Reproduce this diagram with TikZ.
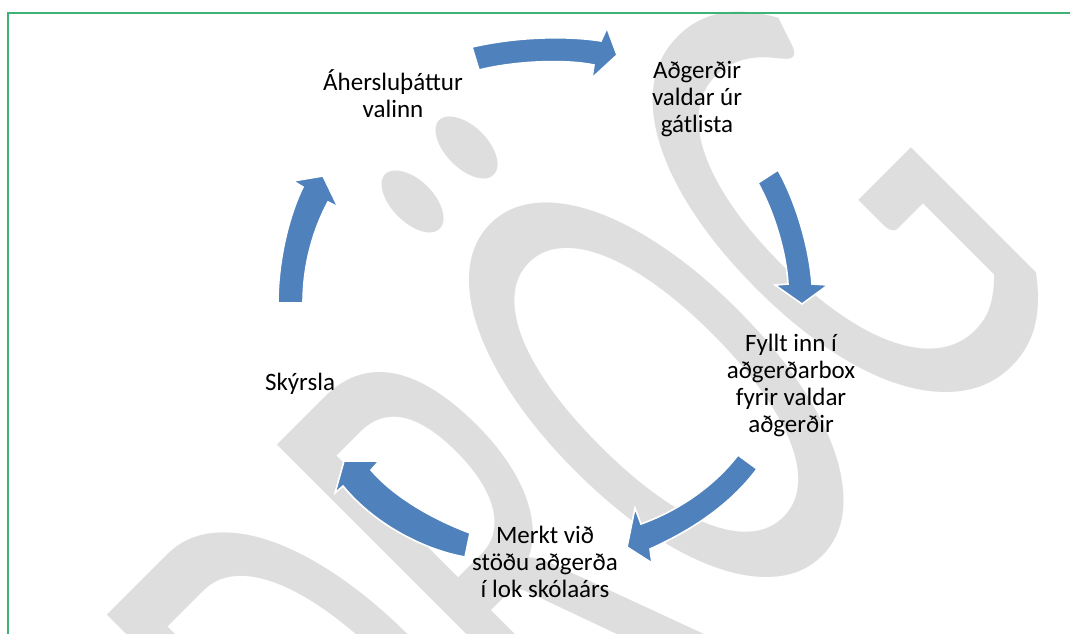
\documentclass[tikz,border=0pt]{standalone}
\usepackage{fontspec}
\setmainfont{Carlito}
\usepackage{graphicx}
\definecolor{frameg}{RGB}{64,178,115}
\definecolor{wmgray}{RGB}{222,222,222}
\definecolor{arrblue}{RGB}{79,129,189}
\tikzset{
  cyclearrow/.style={fill=arrblue, draw=white, line width=1.6pt, line join=miter},
  label/.style={align=center, inner sep=0pt, text=black,
    font=\fontsize{25}{27}\selectfont},
}
\begin{document}
\begin{tikzpicture}[x=1pt,y=-1pt]
\useasboundingbox (0,0) rectangle (1070,633);
\clip (0,0) rectangle (1070,633);
\fill[white] (0,0) rectangle (1070,633);
% watermark
\node[anchor=base, rotate=45, inner sep=0pt, text=wmgray] (wm) at (748,624)
  {\scalebox{1}[1.85]{\fontsize{387}{400}\selectfont DRÖG}};
% frame
\draw[frameg, line width=2pt] (8,640) -- (8,13) -- (1080,13);
% labels
\node[label] (n1) at (393,94) {Áhersluþáttur\\valinn};
\node[label] (n2) at (697,99) {Aðgerðir\\valdar úr\\gátlista};
\node[label] (n3) at (791,385) {Fyllt inn í\\aðgerðarbox\\fyrir valdar\\aðgerðir};
\node[label] (n4) at (545,562) {Merkt við\\stöðu aðgerða\\í lok skólaárs};
\node[label] (n5) at (300,384) {Skýrsla};
% arrows
\path[cyclearrow] (472,47) .. controls (520,36) and (570,36) .. (601,41)
  -- (607,28) -- (617,55) -- (592,78) -- (594,65)
  .. controls (565,59) and (515,61) .. (479,70) -- cycle;
\path[cyclearrow] (778,170) .. controls (795,200) and (809,245) .. (812,284)
  -- (828,285) -- (802,304) -- (775,285) -- (788,284)
  .. controls (786,250) and (773,210) .. (758,183) -- cycle;
\path[cyclearrow] (738,455) .. controls (715,485) and (680,510) .. (641,524)
  -- (635,508) -- (627,547) -- (652,563) -- (650,549)
  .. controls (692,530) and (730,505) .. (757,469) -- cycle;
\path[cyclearrow] (470,533) .. controls (435,520) and (395,498) .. (371,470)
  -- (379,461) -- (344,461) -- (335,493) -- (343,486)
  .. controls (375,525) and (425,550) .. (465,557) -- cycle;
\path[cyclearrow] (278,303) .. controls (278,265) and (287,220) .. (303,187)
  -- (293,181) -- (323,176) -- (338,207) -- (328,202)
  .. controls (313,230) and (303,265) .. (303,303) -- cycle;
\end{tikzpicture}
\end{document}
